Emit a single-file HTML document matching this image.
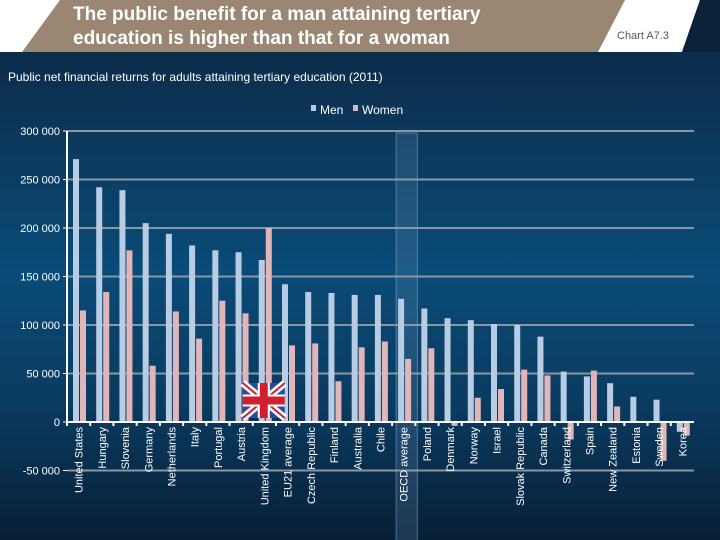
<!DOCTYPE html>
<html><head><meta charset="utf-8"><style>
body{margin:0;width:720px;height:540px;overflow:hidden;font-family:"Liberation Sans",sans-serif}
#root{position:relative;width:720px;height:540px;background:linear-gradient(180deg,#0c2540 0%,#0c3050 15%,#0a4b78 50%,#0a3b60 75%,#071f36 100%)}
</style></head><body>
<div id="root">
<svg width="720" height="540" style="position:absolute;left:0;top:0">
<polygon points="0,0 700,0 682,52 0,52" fill="#ffffff"/>
<polygon points="60,0 625,0 598,52 22,52" fill="#9b8673"/>
<text x="73" y="20" font-size="19" font-weight="bold" fill="#fff">The public benefit for a man attaining tertiary</text>
<text x="73" y="44" font-size="19" font-weight="bold" fill="#fff">education is higher than that for a woman</text>
<text x="617" y="39" font-size="11" fill="#555">Chart A7.3</text>
<polygon points="700,0 720,0 720,52 682,52" fill="#0b2238"/>
<text x="8" y="81" font-size="12" fill="#fff">Public net financial returns for adults attaining tertiary education (2011)</text>
<rect x="311" y="105" width="5" height="6" fill="#b8cde4"/>
<text x="320" y="114" font-size="12" fill="#fff">Men</text>
<rect x="353" y="105" width="5" height="6" fill="#e2b5b8"/>
<text x="362" y="114" font-size="12" fill="#fff">Women</text>
<g id="chart"></g>
</svg>
</div>
<script>
const categories=["United States","Hungary","Slovenia","Germany","Netherlands","Italy","Portugal","Austria","United Kingdom","EU21 average","Czech Republic","Finland","Australia","Chile","OECD average","Poland","Denmark","Norway","Israel","Slovak Republic","Canada","Switzerland","Spain","New Zealand","Estonia","Sweden","Korea"];
const men=[271000,242000,239000,205000,194000,182000,177000,175000,167000,142000,134000,133000,131000,131000,127000,117000,107000,105000,101000,100000,88000,52000,47000,40000,26000,23000,-10000];
const women=[115000,134000,177000,58000,114000,86000,125000,112000,200000,79000,81000,42000,77000,83000,65000,76000,-4000,25000,34000,54000,48000,-18000,53000,16000,0,-40000,-14000];
const yTicks=[-50000,0,50000,100000,150000,200000,250000,300000];
const tickLabels=["-50 000","0","50 000","100 000","150 000","200 000","250 000","300 000"];

const NS="http://www.w3.org/2000/svg";
const g=document.getElementById('chart');
const x0=67,x1=694,yTop=131,yZero=422;
const y=v=>yZero-(v/300000)*(yZero-yTop);
const bw=(x1-x0)/categories.length;
const xc=i=>x0+i*bw;
function mk(tag,attrs){const e=document.createElementNS(NS,tag);for(const k in attrs)e.setAttribute(k,attrs[k]);g.appendChild(e);return e;}
const oi=categories.indexOf("OECD average");
let hl=mk('rect',{x:xc(oi)+4,y:yTop+2,width:bw-2,height:540-yTop,fill:'rgba(120,160,200,0.2)',stroke:'rgba(140,180,220,0.5)'});


yTicks.forEach((t,i)=>{
  if(t!==0){let l=mk('line',{x1:x0,x2:x1,y1:y(t),y2:y(t),stroke:'#8a97a3','stroke-width':2});
  
  }
  let tx=mk('text',{x:60,y:y(t)+4,'font-size':11,fill:'#fff','text-anchor':'end'});
  tx.textContent=tickLabels[i];
  
  
  let tk=mk('line',{x1:x0-4,x2:x0,y1:y(t),y2:y(t),stroke:'#fff','stroke-width':1});
});
let ya=mk('line',{x1:x0,x2:x0,y1:yTop,y2:yZero,stroke:'#fff','stroke-width':2});


categories.forEach((c,i)=>{
  const xm=xc(i)+6;
  let b=mk('rect',{x:xm,y:Math.min(y(men[i]),yZero),width:6,height:Math.abs(y(men[i])-yZero),fill:'#b8cde4'});
  
  
  let w=mk('rect',{x:xm+7,y:Math.min(y(women[i]),yZero),width:6,height:Math.abs(y(women[i])-yZero),fill:'#e2b5b8'});
  
  
  mk('line',{x1:xc(i),x2:xc(i),y1:yZero,y2:yZero+4,stroke:'#fff','stroke-width':2});
  let t=mk('text',{transform:`translate(${xc(i)+bw/2+4},${yZero+5}) rotate(-90)`,'font-size':11,fill:'#fff','text-anchor':'end'});
  t.textContent=c;
  
  
});
let xa=mk('line',{x1:x0,x2:x1,y1:yZero,y2:yZero,stroke:'#fff','stroke-width':2});


// UK flag
const ui=categories.indexOf("United Kingdom");
const fx=xc(ui)-10,fy=383,fw=42,fh=35;
const fl=document.createElementNS(NS,'g');g.appendChild(fl);


fl.innerHTML=`<rect x="${fx}" y="${fy}" width="${fw}" height="${fh}" fill="#2a4c9a"/>
<line x1="${fx}" y1="${fy}" x2="${fx+fw}" y2="${fy+fh}" stroke="#fff" stroke-width="7"/>
<line x1="${fx+fw}" y1="${fy}" x2="${fx}" y2="${fy+fh}" stroke="#fff" stroke-width="7"/>
<line x1="${fx}" y1="${fy}" x2="${fx+fw}" y2="${fy+fh}" stroke="#d02030" stroke-width="2"/>
<line x1="${fx+fw}" y1="${fy}" x2="${fx}" y2="${fy+fh}" stroke="#d02030" stroke-width="2"/>
<rect x="${fx+fw/2-6}" y="${fy}" width="12" height="${fh}" fill="#fff"/>
<rect x="${fx}" y="${fy+fh/2-6}" width="${fw}" height="12" fill="#fff"/>
<rect x="${fx+fw/2-4}" y="${fy}" width="8" height="${fh}" fill="#d02030"/>
<rect x="${fx}" y="${fy+fh/2-4}" width="${fw}" height="8" fill="#d02030"/>`;
</script>
</body></html>
